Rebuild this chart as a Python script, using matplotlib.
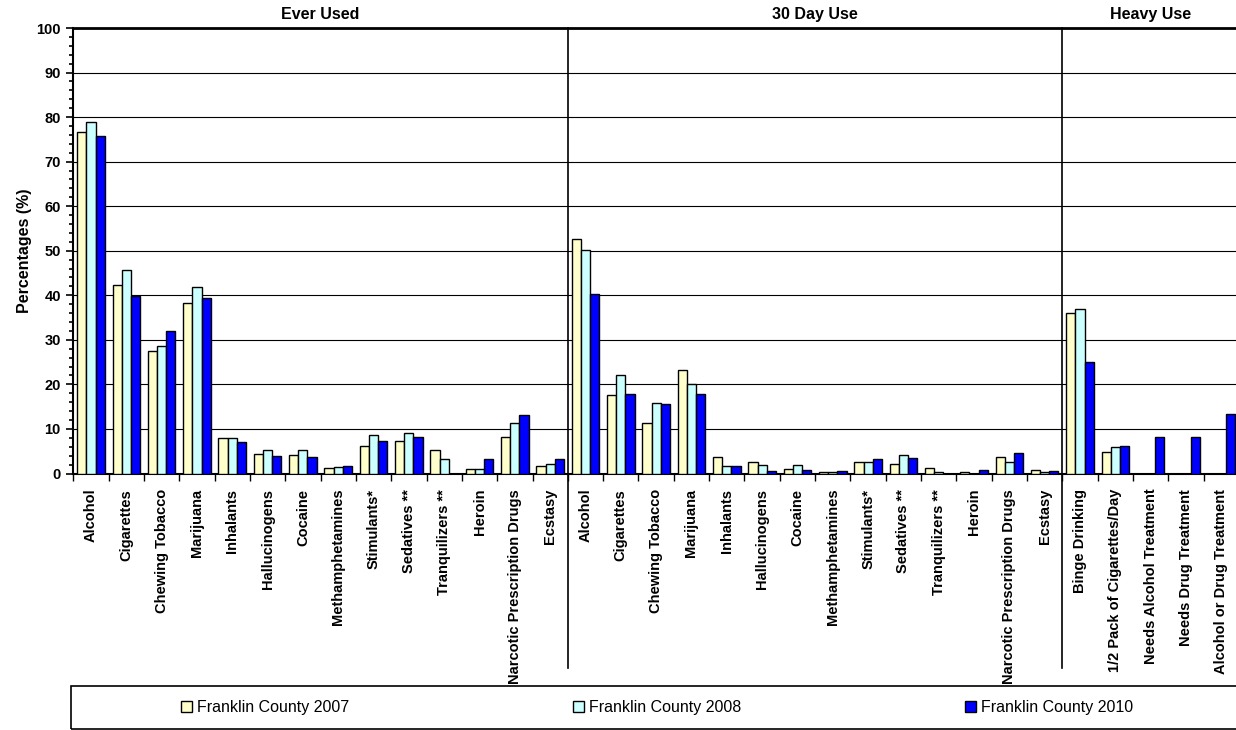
import matplotlib
matplotlib.use("Agg")
import matplotlib.pyplot as plt
from matplotlib.patches import Rectangle
import numpy as np

plt.rcParams['font.family'] = ['Liberation Sans', 'DejaVu Sans']

# categories per section
ever_cats = ["Alcohol", "Cigarettes", "Chewing Tobacco", "Marijuana", "Inhalants",
             "Hallucinogens", "Cocaine", "Methamphetamines", "Stimulants*", "Sedatives **",
             "Tranquilizers **", "Heroin", "Narcotic Prescription Drugs", "Ecstasy"]
day30_cats = list(ever_cats)
heavy_cats = ["Binge Drinking", "1/2 Pack of Cigarettes/Day", "Needs Alcohol Treatment",
              "Needs Drug Treatment", "Alcohol or Drug Treatment"]
sections = ["Ever Used", "30 Day Use", "Heavy Use"]

# values (%) - None where no bar is shown
ever_2007 = [76.7, 42.3, 27.4, 38.3, 8.0, 4.4, 4.1, 1.3, 6.1, 7.3, 5.2, 1.0, 8.1, 1.6]
ever_2008 = [79.0, 45.6, 28.7, 41.8, 8.0, 5.2, 5.2, 1.4, 8.7, 9.1, 3.3, 1.1, 11.3, 2.2]
ever_2010 = [75.8, 39.9, 31.9, 39.4, 7.1, 3.9, 3.7, 1.7, 7.3, 8.3, None, 3.2, 13.1, 3.2]

day30_2007 = [52.6, 17.7, 11.3, 23.3, 3.8, 2.6, 1.0, 0.4, 2.6, 2.2, 1.3, 0.3, 3.8, 0.7]
day30_2008 = [50.1, 22.1, 15.8, 20.0, 1.7, 1.8, 1.9, 0.4, 2.6, 4.1, 0.4, None, 2.5, 0.4]
day30_2010 = [40.4, 17.8, 15.5, 17.9, 1.6, 0.5, 0.7, 0.5, 3.2, 3.4, None, 0.8, 4.5, 0.5]

heavy_2007 = [36.0, 4.9, None, None, None]
heavy_2008 = [36.9, 5.9, None, None, None]
heavy_2010 = [25.1, 6.2, 8.3, 8.3, 13.3]

series_names = ["Franklin County 2007", "Franklin County 2008", "Franklin County 2010"]
colors = ["#FFFFCC", "#CCFFFF", "#0000FF"]

labels = ever_cats + day30_cats + heavy_cats
vals = [np.array(a + b + c, dtype=float) for a, b, c in
        [(ever_2007, day30_2007, heavy_2007),
         (ever_2008, day30_2008, heavy_2008),
         (ever_2010, day30_2010, heavy_2010)]]
x = np.arange(len(labels))
n1, n2 = len(ever_cats), len(day30_cats)
bounds = [n1 - 0.5, n1 + n2 - 0.5]

fig = plt.figure(figsize=(12.36, 7.3), dpi=100)
ax = fig.add_axes([73.3 / 1236, 1 - 473.5 / 730, (1239 - 73.3) / 1236, (473.5 - 28) / 730])

w = 0.26
handles = []
for i, (v, c, name) in enumerate(zip(vals, colors, series_names)):
    b = ax.bar(x + (i - 1) * w, v, w, color=c, edgecolor="black", linewidth=1, label=name, zorder=3)
    handles.append(b)

ax.set_xlim(-0.5, len(labels) - 0.5)
ax.set_ylim(0, 100)
ax.set_yticks(np.arange(0, 101, 10))
ax.set_yticks(np.arange(0, 101, 2), minor=True)
ax.yaxis.grid(True, color="black", linewidth=0.8, zorder=0)
ax.tick_params(axis="y", which="major", length=5, width=1.2, direction="out", pad=4, labelsize=10.5)
ax.tick_params(axis="y", which="minor", length=3, width=1.2, direction="out")
for t in ax.get_yticklabels():
    t.set_fontweight("bold")

ax.set_xticks(x)
ax.set_xticklabels(labels, rotation=90, fontweight="bold", fontsize=10.5, va="top", ha="center")
ax.set_xticks(np.arange(-0.5, len(labels), 1), minor=True)
ax.tick_params(axis="x", which="major", length=0, pad=11)
ax.tick_params(axis="x", which="minor", length=5, width=1, direction="out")

ax.set_ylabel("Percentages (%)", fontweight="bold", fontsize=11.5, labelpad=3)

for s in ["left", "bottom"]:
    ax.spines[s].set_linewidth(1.5)
ax.spines["top"].set_linewidth(2)
ax.spines["right"].set_visible(False)

# section separators, running down through the tick labels
for bx in bounds:
    ax.plot([bx, bx], [100, -43.7], color="black", linewidth=1.2, clip_on=False, zorder=4)

# section titles
starts = [0, n1, n1 + n2, len(labels)]
for k, name in enumerate(sections):
    cx = (starts[k] + starts[k + 1] - 1) / 2
    ax.text(cx, 1.03, name, transform=ax.get_xaxis_transform(),
            ha="center", va="center", fontweight="bold", fontsize=11.5)

# legend box
fig.patches.append(Rectangle((71 / 1236, 1 - 729 / 730), 1.0, (729 - 686) / 730,
                             transform=fig.transFigure, fill=False, edgecolor="black",
                             linewidth=1.2))
fig.legend(handles=handles, labels=series_names, loc="center left",
           bbox_to_anchor=(181 / 1236, 1 - 707.5 / 730), ncol=3, frameon=False,
           fontsize=11.5, handlelength=0.7, handleheight=0.7, handletextpad=0.3,
           columnspacing=14.0, borderpad=0, borderaxespad=0)

fig.savefig("out.png", dpi=100)
